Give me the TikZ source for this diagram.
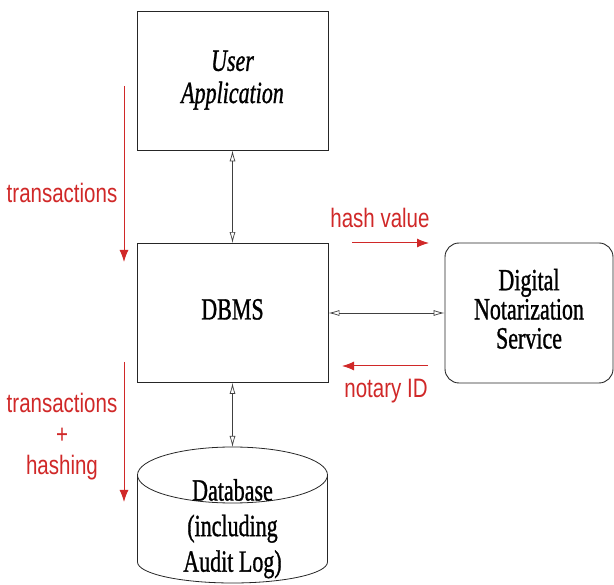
\documentclass[tikz,border=0pt]{standalone}
\usepackage{graphicx}
\usepackage{fontspec}
\setmainfont{Liberation Serif}[FakeBold=1.2]
\newfontfamily\labfont{Liberation Sans}
\usetikzlibrary{positioning,arrows.meta}
\definecolor{notered}{HTML}{D02828}
\newcommand{\tallt}[2]{\scalebox{1}[#1]{\begin{tabular}{@{}c@{}}#2\end{tabular}}}
\tikzset{
  blk/.style={draw=black!85, line width=0.9pt, minimum width=191pt,
    minimum height=139pt, inner sep=0pt, font=\fontsize{22}{23}\selectfont},
  dnsb/.style={blk, minimum width=168pt, minimum height=140pt,
    rounded corners=14pt, font=\fontsize{22}{20.7}\selectfont},
  cyl/.style={draw=black!85, line width=0.8pt},
  link/.style={{Latex[open,length=11pt,width=6pt]}-{Latex[open,length=11pt,width=6pt]},
    line width=0.7pt, draw=black!75},
  redflow/.style={-{Latex[length=12pt,width=9pt]}, line width=1pt, draw=notered},
  lab/.style={font=\labfont\fontsize{20.5}{24}\selectfont, text=notered, inner sep=0pt},
}

\begin{document}
\begin{tikzpicture}[x=1pt, y=-1pt]
    \useasboundingbox (0,0) rectangle (614,585);
    % main blocks
    \node[blk, font=\fontsize{22}{23}\selectfont\itshape] (user) at (232.5,80.5)
      {\raisebox{-12pt}{\tallt{1.4}{User\\Application}}};
    \node[blk] (dbms) at (232.5,313)
      {\raisebox{-7pt}{\tallt{1.4}{DBMS}}};
    \node[dnsb] (dns) at (529,313)
      {\raisebox{-5pt}{\tallt{1.4}{Digital\\Notarization\\Service}}};
    % database drum
    \draw[cyl] (232.5,475) ellipse [x radius=95, y radius=28];
    \draw[cyl] (137.5,475) -- (137.5,562)
      arc[start angle=180, end angle=0, x radius=95, y radius=21] -- (327.5,475);
    \node[font=\fontsize{22}{25.4}\selectfont, inner sep=0pt] (db) at (232.5,529)
      {\tallt{1.4}{Database\\(including\\Audit Log)}};
    \coordinate (dbtop) at (232.5,447);
    % two-way links
    \draw[link] (user) -- (dbms);
    \draw[link] (dbms) -- (dns);
    \draw[link] (dbms) -- (dbtop);
    % red flow marks
    \coordinate (tra) at (124,86);
    \coordinate (trb) at (124,262);
    \coordinate (tha) at (124,362);
    \coordinate (thb) at (124,502);
    \coordinate (hva) at (352,243);
    \coordinate (hvb) at (429,243);
    \coordinate (nia) at (428,366);
    \coordinate (nib) at (342,366);
    \draw[redflow] (tra) -- (trb);
    \draw[redflow] (tha) -- (thb);
    \draw[redflow] (hva) -- (hvb);
    \draw[redflow] (nia) -- (nib);
    \node[lab] (trans) at (62,196) {\tallt{1.3}{transactions}};
    \node[lab] (transhash) at (62,437) {\tallt{1.3}{transactions\\+\\hashing}};
    \node[lab] (hashv) at (380,221) {\tallt{1.3}{hash value}};
    \node[lab] (notid) at (386,391) {\tallt{1.3}{notary ID}};
\end{tikzpicture}
\end{document}
